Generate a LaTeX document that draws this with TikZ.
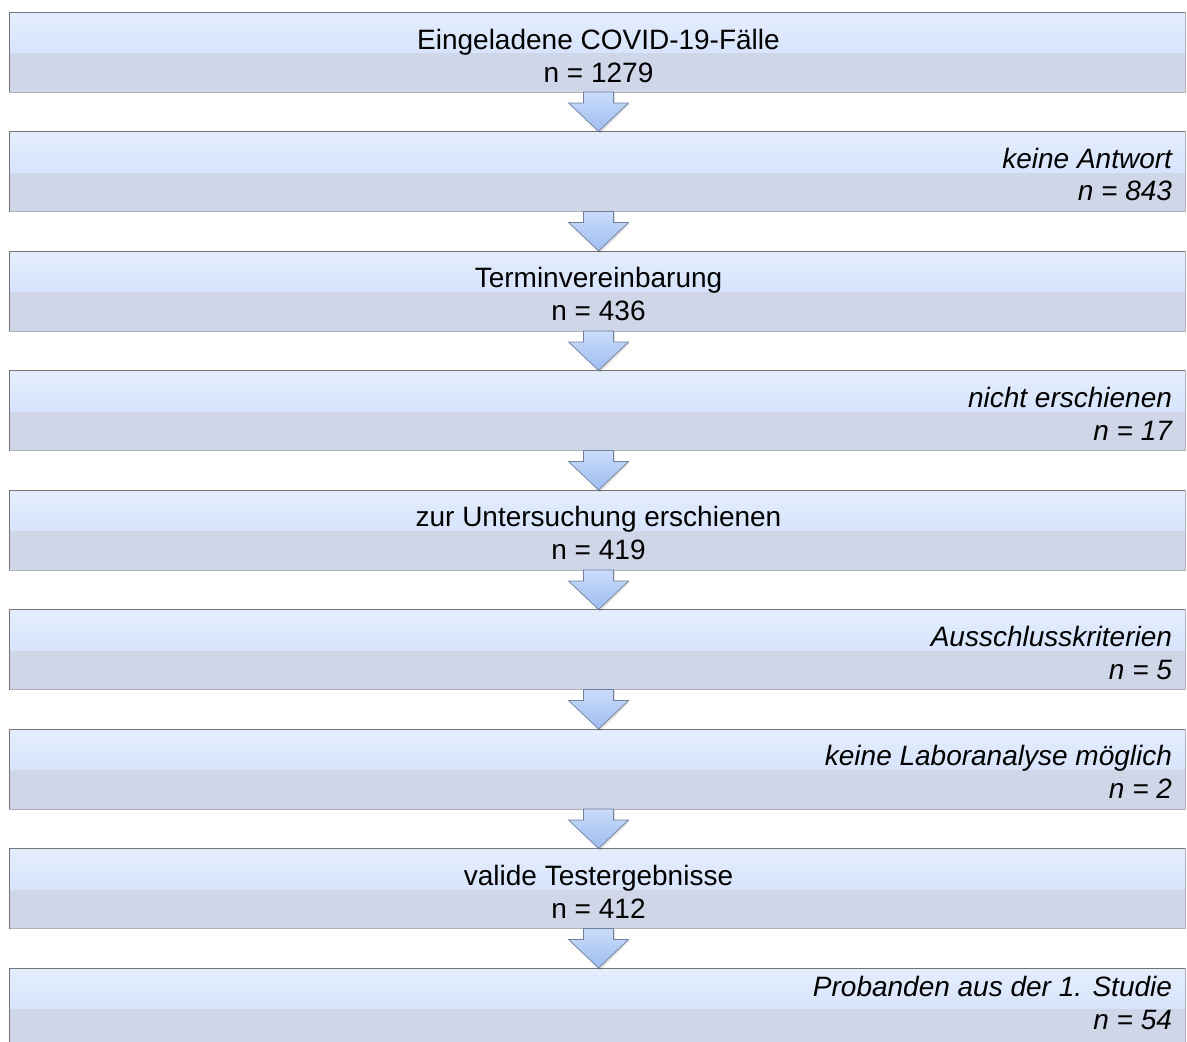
\documentclass[tikz,border=0pt]{standalone}
\usepackage{fontspec}
\setmainfont{Liberation Sans}
\usetikzlibrary{calc,backgrounds}
\definecolor{bandhi}{RGB}{228,237,253}
\definecolor{bandmid}{RGB}{202,219,250}
\definecolor{bandlow}{RGB}{206,214,232}
\definecolor{boxline}{RGB}{115,115,120}
\definecolor{boxlinelt}{RGB}{175,178,185}
\definecolor{arrhi}{RGB}{202,220,251}
\definecolor{arrlo}{RGB}{158,189,240}
\definecolor{arrline}{RGB}{112,128,155}
\tikzset{
  fbox/.style={rectangle, minimum width=1176pt, minimum height=80pt, inner sep=0pt, outer sep=0pt,
    draw=boxlinelt, line width=0.7pt,
    path picture={
      \shade[top color=bandhi, bottom color=bandmid] (path picture bounding box.north west) rectangle ([yshift=-1pt]path picture bounding box.east);
      \fill[bandlow] ([yshift=-1pt]path picture bounding box.west) rectangle (path picture bounding box.south east);
    }},
  edgeline/.style={draw=boxline, line width=1pt},
  txt/.style={inner sep=0pt, outer sep=0pt, text=black, font=\fontsize{28}{33}\selectfont},
  ctxt/.style={txt, anchor=base},
  rtxt/.style={txt, anchor=base east, font=\fontsize{28}{33}\selectfont\itshape},
  blockarrow/.style={top color=arrhi, bottom color=arrlo, draw=arrline, line width=0.7pt, line join=miter},
  arrshadow/.style={fill=black, opacity=0.12},
  shadowa/.style={fill=black, opacity=0.13},
  shadowb/.style={fill=black, opacity=0.07},
}
\newcommand\flowarrow[2]{%
  \fill[arrshadow] ($(#1.south)+(-12,-1)$) -- ++(0,-11) -- ++(-15,0) -- ($(#2.north)+(3,-2)$) -- ($(#1.south)+(33,-12)$) -- ++(-15,0) -- ++(0,11) -- cycle;
  \draw[blockarrow] ($(#1.south)+(-13.5,0)$) -- ++(0,-11) -- ++(-15,0) -- ($(#2.north)+(1.5,0)$) -- ($(#1.south)+(31.5,-11)$) -- ++(-15,0) -- ++(0,11) -- cycle;
}
\newcommand\boxshadow[1]{%
  \fill[shadowb] ($(#1.north west)+(2.5,-4)$) rectangle ($(#1.south east)+(2.5,-4)$);
  \fill[shadowa] ($(#1.north west)+(1,-2)$) rectangle ($(#1.south east)+(1,-2)$);
}
\newcommand\boxedges[1]{%
  \draw[edgeline] (#1.south west) -- (#1.north west) -- (#1.north east);
}
\begin{document}
\begin{tikzpicture}[x=1pt,y=1pt]
\useasboundingbox (0,0) rectangle (1187,-1042);
\fill[white] (0,0) rectangle (1187,-1042);
% boxes: tops 12,131.5,251,370.5,490,609.5,729,848.5,968
\node[fbox] (b1) at (597,-52) {};
\node[fbox] (b2) at (597,-171.5) {};
\node[fbox] (b3) at (597,-291) {};
\node[fbox] (b4) at (597,-410.5) {};
\node[fbox] (b5) at (597,-530) {};
\node[fbox] (b6) at (597,-649.5) {};
\node[fbox] (b7) at (597,-769) {};
\node[fbox] (b8) at (597,-888.5) {};
\node[fbox] (b9) at (597,-1008) {};
\foreach \b in {b1,b2,b3,b4,b5,b6,b7,b8,b9} {\boxedges{\b}}
\begin{scope}[on background layer]
\foreach \b in {b1,b2,b3,b4,b5,b6,b7,b8,b9} {\boxshadow{\b}}
\end{scope}
\flowarrow{b1}{b2}
\flowarrow{b2}{b3}
\flowarrow{b3}{b4}
\flowarrow{b4}{b5}
\flowarrow{b5}{b6}
\flowarrow{b6}{b7}
\flowarrow{b7}{b8}
\flowarrow{b8}{b9}
% texts
\node[ctxt] (t1a) at (598.5,-49) {Eingeladene COVID-19-Fälle};
\node[ctxt] (t1b) at (598.5,-82) {n = 1279};
\node[rtxt] (t2a) at (1172,-168) {keine Antwort};
\node[rtxt] (t2b) at (1172,-200.5) {n = 843};
\node[ctxt] (t3a) at (598.5,-287.5) {Terminvereinbarung};
\node[ctxt] (t3b) at (598.5,-320) {n = 436};
\node[rtxt] (t4a) at (1172,-407) {nicht erschienen};
\node[rtxt] (t4b) at (1172,-440) {n = 17};
\node[ctxt] (t5a) at (598.5,-526.5) {zur Untersuchung erschienen};
\node[ctxt] (t5b) at (598.5,-559.5) {n = 419};
\node[rtxt] (t6a) at (1172,-646) {Ausschlusskriterien};
\node[rtxt] (t6b) at (1172,-679) {n = 5};
\node[rtxt] (t7a) at (1172,-765.5) {keine Laboranalyse möglich};
\node[rtxt] (t7b) at (1172,-798.5) {n = 2};
\node[ctxt] (t8a) at (598.5,-885) {valide Testergebnisse};
\node[ctxt] (t8b) at (598.5,-918) {n = 412};
\node[rtxt] (t9a) at (1172,-996) {Probanden aus der 1. Studie};
\node[rtxt] (t9b) at (1172,-1029) {n = 54};
\end{tikzpicture}
\end{document}
